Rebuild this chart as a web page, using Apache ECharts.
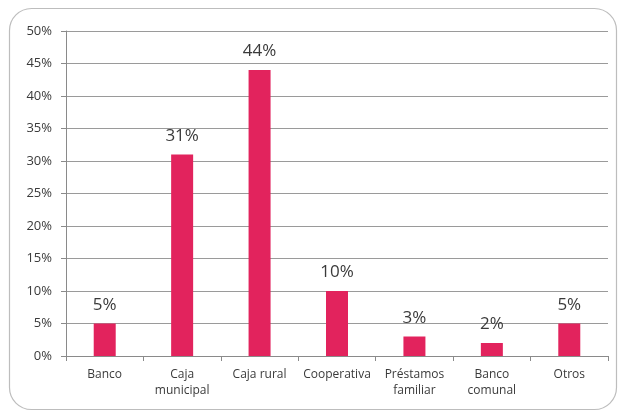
<!DOCTYPE html>
<html><head><meta charset="utf-8">
<script src="https://cdn.jsdelivr.net/npm/echarts@6/dist/echarts.min.js"></script>
<style>html,body{margin:0;padding:0;background:#fff}#c{width:622px;height:414px}</style>
</head><body><div id="c"></div>
<script>
const categories = ['Banco', 'Caja\nmunicipal', 'Caja rural', 'Cooperativa', 'Préstamos\nfamiliar', 'Banco\ncomunal', 'Otros'];
const values = [5, 31, 44, 10, 3, 2, 5];
const yTicks = [0, 5, 10, 15, 20, 25, 30, 35, 40, 45, 50];

const chart = echarts.init(document.getElementById('c'));
chart.setOption({
  animation: false,
  graphic: [{
    type: 'rect', shape: { x: 9.5, y: 8.5, width: 607, height: 401, r: 22 },
    style: { fill: 'none', stroke: '#bdbdbd', lineWidth: 1.2 }, z: -1
  }],
  grid: { left: 66, right: 14, top: 31, bottom: 58 },
  xAxis: {
    type: 'category', data: categories,
    axisLine: { lineStyle: { color: '#8a8a8a' } },
    axisTick: { show: true, alignWithLabel: false, length: 5, lineStyle: { color: '#8a8a8a' } },
    axisLabel: { color: '#3a3a3a', fontSize: 12, fontFamily: 'Open Sans', margin: 11, lineHeight: 16, interval: 0 }
  },
  yAxis: {
    type: 'value', min: yTicks[0], max: yTicks[yTicks.length - 1], interval: 5,
    axisLine: { show: true, lineStyle: { color: '#8a8a8a' } },
    axisTick: { show: true, length: 5, lineStyle: { color: '#8a8a8a' } },
    splitLine: { lineStyle: { color: '#9a9a9a' } },
    axisLabel: { color: '#3a3a3a', fontSize: 13, fontFamily: 'Open Sans', margin: 14, formatter: v => v + '%' }
  },
  series: [{
    type: 'bar', data: values, barWidth: 22,
    itemStyle: { color: '#E2235D' },
    label: { show: true, position: 'top', distance: 10, fontSize: 17, color: '#3a3a3a', fontFamily: 'Open Sans', formatter: p => p.value + '%' }
  }]
});
</script></body></html>
